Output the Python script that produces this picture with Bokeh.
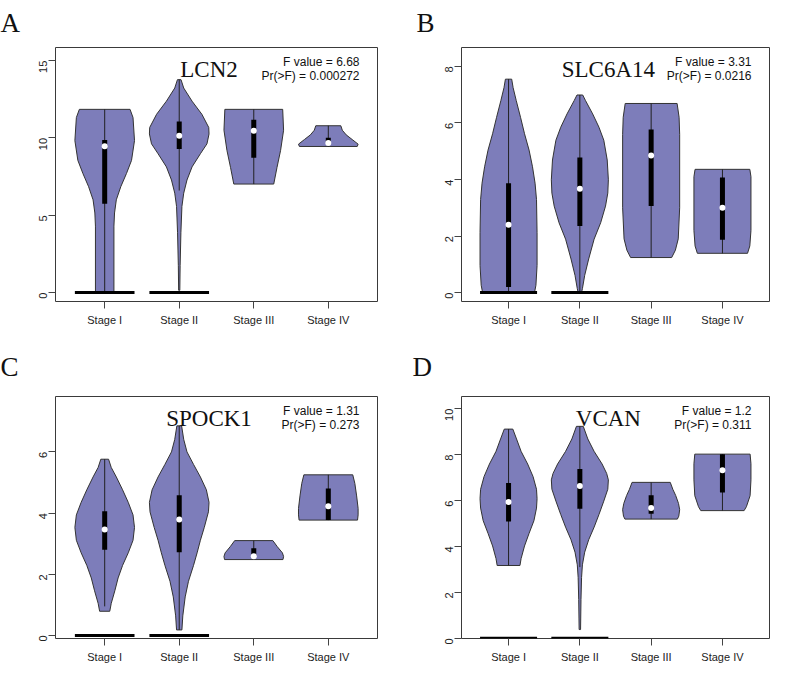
import math
from bokeh.plotting import figure
from bokeh.layouts import column, row
from bokeh.models import Range1d, FixedTicker, Label
from bokeh.embed import file_html
from bokeh.resources import INLINE

# ---------------- data ----------------
STAGES = ["Stage I", "Stage II", "Stage III", "Stage IV"]
STAGE_POS = [1, 2, 3, 4]
ZERO_STAGES = ["Stage I", "Stage II"]

# Panel A: LCN2
LCN2_F = "F value = 6.68"
LCN2_P = "Pr(>F) = 0.000272"
LCN2_YTICKS = [0, 5, 10, 15]
LCN2_YRANGE = [-0.575, 15.85]
LCN2_VY = [
    [0, 4.3, 5.15, 6.0, 6.85, 7.7, 8.55, 9.83, 11.32, 11.85],
    [0.15, 1.74, 3.87, 5.57, 6.43, 7.28, 8.13, 8.98, 9.62, 10.26, 10.68, 11.53, 12.38, 13.23, 13.77],
    [7.02, 8.1, 9.2, 10.5, 11.85],
    [9.45, 9.6, 9.9, 10.2, 10.5, 10.79],
]
LCN2_VW = [
    [0.31, 0.31, 0.33, 0.39, 0.54, 0.73, 0.9, 1.0, 0.95, 0.85],
    [0.02, 0.03, 0.056, 0.09, 0.15, 0.26, 0.43, 0.71, 0.93, 1.0, 0.99, 0.76, 0.43, 0.15, 0.06],
    [0.67, 0.78, 0.9, 1.0, 0.97],
    [0.97, 1.0, 0.8, 0.6, 0.47, 0.42],
]
LCN2_Q1 = [5.74, 9.28, 8.72, 9.68]
LCN2_MED = [9.47, 10.15, 10.47, 9.68]
LCN2_Q3 = [9.87, 11.06, 11.17, 10.02]
LCN2_LO = [0, 6.6, 7.02, 9.45]
LCN2_HI = [11.85, 13.77, 11.85, 10.79]

# Panel B: SLC6A14
SLC_F = "F value = 3.31"
SLC_P = "Pr(>F) = 0.0216"
SLC_YTICKS = [0, 2, 4, 6, 8]
SLC_YRANGE = [-0.315, 8.67]
SLC_VY = [
    [0, 0.26, 0.96, 2.12, 3.29, 3.87, 4.45, 5.04, 5.62, 6.2, 6.79, 7.25, 7.55],
    [0, 0.14, 0.61, 1.19, 1.89, 2.47, 3.06, 3.52, 3.99, 4.69, 5.39, 5.85, 6.32, 6.79, 6.99],
    [1.24, 1.5, 1.9, 3.0, 5.6, 6.2, 6.69],
    [1.39, 1.65, 2.2, 4.1, 4.36],
]
SLC_VW = [
    [0.91, 0.96, 1.0, 1.0, 0.98, 0.93, 0.84, 0.72, 0.56, 0.42, 0.27, 0.16, 0.11],
    [0.06, 0.09, 0.17, 0.31, 0.5, 0.73, 0.9, 0.98, 1.0, 0.96, 0.84, 0.67, 0.45, 0.2, 0.1],
    [0.72, 0.85, 0.95, 1.0, 1.0, 0.98, 0.91],
    [0.88, 0.96, 1.0, 1.0, 0.96],
]
SLC_Q1 = [0.2, 2.36, 3.06, 1.87]
SLC_MED = [2.4, 3.67, 4.85, 3.0]
SLC_Q3 = [3.87, 4.78, 5.77, 4.07]
SLC_LO = [0, 0, 1.24, 1.39]
SLC_HI = [7.55, 6.99, 6.69, 4.36]

# Panel C: SPOCK1
SPOCK_F = "F value = 1.31"
SPOCK_P = "Pr(>F) = 0.273"
SPOCK_YTICKS = [0, 2, 4, 6]
SPOCK_YRANGE = [-0.1, 7.81]
SPOCK_VY = [
    [0.79, 1.05, 1.46, 1.88, 2.29, 2.7, 3.11, 3.53, 3.94, 4.35, 4.76, 5.18, 5.49, 5.76],
    [0.18, 0.64, 1.26, 1.77, 2.29, 2.7, 3.11, 3.53, 4.04, 4.35, 4.76, 5.18, 5.59, 6.0, 6.41, 6.85],
    [2.48, 2.58, 2.7, 2.9, 3.1],
    [3.77, 3.94, 4.15, 4.56, 4.97, 5.25],
]
SPOCK_VW = [
    [0.17, 0.22, 0.34, 0.45, 0.6, 0.79, 0.95, 1.0, 0.95, 0.79, 0.6, 0.39, 0.22, 0.13],
    [0.09, 0.12, 0.2, 0.31, 0.48, 0.6, 0.71, 0.84, 0.98, 1.0, 0.91, 0.71, 0.48, 0.26, 0.15, 0.08],
    [0.98, 1.0, 0.96, 0.79, 0.64],
    [0.98, 1.0, 1.0, 0.95, 0.89, 0.82],
]
SPOCK_Q1 = [2.8, 2.72, 2.6, 3.77]
SPOCK_MED = [3.46, 3.79, 2.59, 4.22]
SPOCK_Q3 = [4.06, 4.58, 2.85, 4.8]
SPOCK_LO = [0.95, 0.18, 2.48, 3.77]
SPOCK_HI = [5.76, 6.85, 3.1, 5.25]

# Panel D: VCAN
VCAN_F = "F value = 1.2"
VCAN_P = "Pr(>F) = 0.311"
VCAN_YTICKS = [0, 2, 4, 6, 8, 10]
VCAN_YRANGE = [-0.01, 10.53]
VCAN_VY = [
    [3.17, 3.47, 4.02, 4.57, 5.12, 5.67, 6.08, 6.49, 7.04, 7.59, 8.14, 8.68, 9.11],
    [0.38, 1.69, 2.65, 3.2, 3.75, 4.29, 4.84, 5.39, 5.94, 6.49, 6.9, 7.18, 7.59, 8.14, 8.68, 9.23],
    [5.19, 5.32, 5.6, 5.87, 6.22, 6.49, 6.79],
    [5.56, 5.73, 6.21, 6.9, 7.6, 8.02],
]
VCAN_VW = [
    [0.4, 0.44, 0.56, 0.72, 0.89, 0.98, 1.0, 0.98, 0.86, 0.67, 0.44, 0.28, 0.15],
    [0.025, 0.04, 0.06, 0.09, 0.17, 0.31, 0.5, 0.67, 0.83, 0.98, 1.0, 0.94, 0.78, 0.5, 0.28, 0.12],
    [0.92, 0.97, 1.0, 0.96, 0.86, 0.76, 0.67],
    [0.76, 0.84, 0.97, 1.0, 1.0, 0.97],
]
VCAN_Q1 = [5.09, 5.64, 5.42, 6.35]
VCAN_MED = [5.93, 6.63, 5.67, 7.32]
VCAN_Q3 = [6.76, 7.37, 6.23, 8.02]
VCAN_LO = [3.17, 3.1, 5.19, 5.56]
VCAN_HI = [9.11, 9.23, 6.79, 8.02]

# ---------------- style ----------------
VIOLIN_FILL = "#7D7DBA"
XR = (0.34, 4.66)
HALF = 0.4
SANS = "Liberation Sans"
SERIF = "Liberation Serif"


def make_panel(letter, gene, ftxt, ptxt, yticks, yrange, vy, vw, q1, med, q3, lo, hi,
               width, height, bl, br, bt, bb, letter_dx, letter_standoff, letter_valign):
    p = figure(width=width, height=height, output_backend="svg", toolbar_location=None,
               x_range=Range1d(*XR), y_range=Range1d(*yrange),
               min_border_left=bl, min_border_right=br, min_border_top=bt, min_border_bottom=bb)
    p.grid.visible = False
    p.outline_line_color = "#3a3a3a"
    p.outline_line_width = 1
    p.background_fill_color = "white"
    p.border_fill_color = "white"

    # panel letter as the figure title
    p.title.text = letter
    p.title.align = "left"
    p.title.offset = letter_dx
    p.title.standoff = letter_standoff
    p.title.vertical_align = letter_valign
    p.title.text_font = SERIF
    p.title.text_font_size = "27px"
    p.title.text_font_style = "normal"
    p.title.text_color = "#111111"

    for ax in (p.xaxis[0], p.yaxis[0]):
        ax.axis_line_color = None
        ax.major_tick_line_color = "#444444"
        ax.major_tick_out = 7
        ax.major_tick_in = 0
        ax.minor_tick_line_color = None
        ax.major_label_text_font = SANS
        ax.major_label_text_font_size = "11px"
        ax.major_label_text_color = "#222222"
        ax.major_label_standoff = 5
    p.xaxis.ticker = FixedTicker(ticks=STAGE_POS)
    p.xaxis.major_label_overrides = {s: n for s, n in zip(STAGE_POS, STAGES)}
    p.yaxis.ticker = FixedTicker(ticks=yticks)
    p.yaxis.major_label_orientation = math.pi / 2

    xs, ys = [], []
    for s, yy, ww in zip(STAGE_POS, vy, vw):
        right = [s + HALF * w for w in ww]
        left = [s - HALF * w for w in ww][::-1]
        xs.append(right + left)
        ys.append(list(yy) + list(yy)[::-1])
    p.patches(xs, ys, fill_color=VIOLIN_FILL, line_color="#333333", line_width=1)

    p.segment(x0=STAGE_POS, y0=lo, x1=STAGE_POS, y1=hi, line_color="#222222", line_width=1)
    p.segment(x0=STAGE_POS, y0=q1, x1=STAGE_POS, y1=q3, line_color="black", line_width=5,
              line_cap="butt")
    p.scatter(x=STAGE_POS, y=med, marker="circle", size=6, fill_color="white", line_color=None)

    zx = [STAGE_POS[STAGES.index(s)] for s in ZERO_STAGES]
    p.segment(x0=[x - HALF for x in zx], y0=[0] * len(zx), x1=[x + HALF for x in zx],
              y1=[0] * len(zx), line_color="black", line_width=3, line_cap="butt")

    p.add_layout(Label(x=2.4, y=yrange[1], y_offset=-22, text=gene, text_align="center",
                       text_baseline="alphabetic", text_font=SERIF, text_font_size="23px",
                       text_color="#111111"))
    p.add_layout(Label(x=XR[1], y=yrange[1], x_offset=-18, y_offset=-14, text=ftxt,
                       text_align="right", text_baseline="alphabetic", text_font=SANS,
                       text_font_size="12px", text_color="#111111"))
    p.add_layout(Label(x=XR[1], y=yrange[1], x_offset=-18, y_offset=-28, text=ptxt,
                       text_align="right", text_baseline="alphabetic", text_font=SANS,
                       text_font_size="12px", text_color="#111111"))
    return p


pA = make_panel("A", "LCN2", LCN2_F, LCN2_P, LCN2_YTICKS, LCN2_YRANGE, LCN2_VY, LCN2_VW,
                LCN2_Q1, LCN2_MED, LCN2_Q3, LCN2_LO, LCN2_HI,
                392, 328, 55, 15, 46, 25, -55, 15, "top")
pB = make_panel("B", "SLC6A14", SLC_F, SLC_P, SLC_YTICKS, SLC_YRANGE, SLC_VY, SLC_VW,
                SLC_Q1, SLC_MED, SLC_Q3, SLC_LO, SLC_HI,
                379, 328, 69, 2, 46, 25, -45, 15, "top")
pC = make_panel("C", "SPOCK1", SPOCK_F, SPOCK_P, SPOCK_YTICKS, SPOCK_YRANGE, SPOCK_VY, SPOCK_VW,
                SPOCK_Q1, SPOCK_MED, SPOCK_Q3, SPOCK_LO, SPOCK_HI,
                392, 337, 55, 15, 68, 25, -55, 29, "bottom")
pD = make_panel("D", "VCAN", VCAN_F, VCAN_P, VCAN_YTICKS, VCAN_YRANGE, VCAN_VY, VCAN_VW,
                VCAN_Q1, VCAN_MED, VCAN_Q3, VCAN_LO, VCAN_HI,
                379, 337, 69, 2, 68, 25, -49, 29, "bottom")

layout = column(row(pA, pB), row(pC, pD))
open("out.html", "w").write(file_html(layout, INLINE))
